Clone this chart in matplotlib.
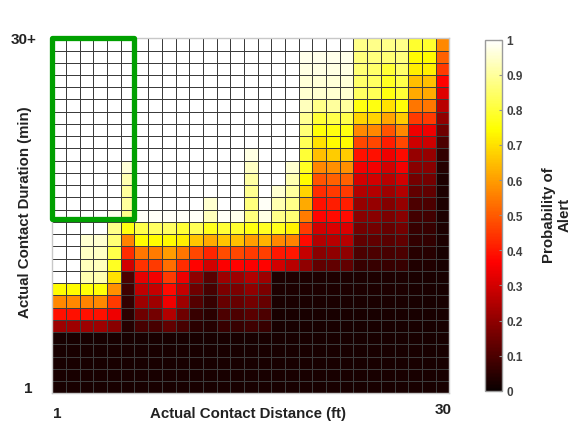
import matplotlib
matplotlib.use("Agg")
import matplotlib.pyplot as plt
import numpy as np
from matplotlib.patches import Rectangle

plt.rcParams['font.family'] = ['Liberation Sans', 'DejaVu Sans']

# Probability of alert; rows listed from top (30+ min) to bottom (1 min),
# columns from distance 1 ft (left) to 30 ft (right)
prob_rows = [
    [1, 1, 1, 1, 1, 1, 1, 1, 1, 1, 1, 1, 1, 1, 1, 1, 1, 1, 1, 1, 1, 1, .88, .88, .88, .88, .79, .79, .57],
    [1, 1, 1, 1, 1, 1, 1, 1, 1, 1, 1, 1, 1, 1, 1, 1, 1, 1, .98, .98, .98, .98, .87, .87, .86, .87, .74, .74, .51],
    [1, 1, 1, 1, 1, 1, 1, 1, 1, 1, 1, 1, 1, 1, 1, 1, 1, 1, .97, .97, .97, .97, .86, .85, .80, .85, .72, .72, .45],
    [1, 1, 1, 1, 1, 1, 1, 1, 1, 1, 1, 1, 1, 1, 1, 1, 1, 1, .96, .96, .96, .96, .85, .84, .78, .82, .65, .65, .37],
    [1, 1, 1, 1, 1, 1, 1, 1, 1, 1, 1, 1, 1, 1, 1, 1, 1, 1, .95, .95, .95, .95, .84, .83, .76, .80, .62, .62, .32],
    [1, 1, 1, 1, 1, 1, 1, 1, 1, 1, 1, 1, 1, 1, 1, 1, 1, 1, .93, .88, .90, .90, .76, .76, .70, .75, .54, .54, .26],
    [1, 1, 1, 1, 1, 1, 1, 1, 1, 1, 1, 1, 1, 1, 1, 1, 1, 1, .89, .80, .82, .82, .68, .68, .61, .67, .45, .45, .20],
    [1, 1, 1, 1, 1, 1, 1, 1, 1, 1, 1, 1, 1, 1, 1, 1, 1, 1, .86, .75, .76, .76, .57, .57, .49, .57, .34, .34, .15],
    [1, 1, 1, 1, 1, 1, 1, 1, 1, 1, 1, 1, 1, 1, 1, 1, 1, 1, .83, .70, .74, .74, .47, .47, .41, .47, .29, .29, .10],
    [1, 1, 1, 1, 1, 1, 1, 1, 1, 1, 1, 1, 1, 1, .97, 1, 1, 1, .80, .65, .67, .67, .39, .39, .34, .38, .21, .21, .06],
    [1, 1, 1, 1, 1, .96, 1, 1, 1, 1, 1, 1, 1, 1, .94, 1, 1, .95, .78, .57, .58, .58, .35, .35, .30, .35, .19, .19, .04],
    [1, 1, 1, 1, 1, .92, 1, 1, 1, 1, 1, 1, 1, 1, .91, 1, 1, .92, .74, .49, .51, .51, .30, .30, .26, .30, .16, .16, .03],
    [1, 1, 1, 1, 1, .90, 1, 1, 1, 1, 1, 1, 1, 1, .89, 1, .95, .90, .68, .43, .45, .45, .25, .25, .22, .25, .13, .13, .03],
    [1, 1, 1, 1, 1, .90, 1, 1, 1, 1, 1, .95, 1, 1, .87, .99, .92, .88, .62, .39, .41, .41, .21, .21, .18, .21, .10, .10, .03],
    [1, 1, 1, 1, .98, .88, .99, .99, .99, .99, .99, .93, .99, .98, .87, .97, .88, .86, .55, .37, .38, .38, .19, .19, .17, .19, .085, .085, .03],
    [1, 1, 1, 1, .88, .76, .82, .84, .84, .80, .83, .77, .80, .79, .76, .78, .77, .73, .45, .30, .31, .31, .16, .16, .14, .16, .07, .07, .03],
    [1, 1, .95, .95, .86, .56, .74, .74, .74, .72, .66, .62, .66, .65, .60, .63, .57, .56, .38, .25, .26, .26, .13, .13, .12, .13, .06, .06, .03],
    [1, 1, .94, .94, .82, .43, .54, .55, .60, .54, .47, .42, .48, .47, .45, .46, .40, .40, .28, .19, .20, .20, .10, .10, .09, .10, .045, .045, .02],
    [1, 1, .93, .93, .78, .30, .44, .45, .53, .43, .37, .30, .36, .37, .36, .37, .30, .26, .20, .13, .13, .13, .07, .07, .07, .07, .035, .035, .02],
    [1, 1, .92, .92, .70, .10, .33, .35, .45, .34, .20, .12, .22, .22, .25, .22, .03, .03, .03, .03, .03, .03, .03, .03, .03, .03, .025, .025, .02],
    [.74, .74, .75, .75, .58, .08, .27, .28, .38, .28, .15, .09, .17, .17, .20, .17, .03, .03, .03, .03, .03, .03, .03, .03, .03, .03, .025, .025, .02],
    [.57, .57, .56, .57, .45, .06, .22, .22, .34, .22, .11, .07, .14, .14, .16, .14, .025, .025, .025, .025, .025, .025, .025, .025, .025, .025, .02, .02, .02],
    [.39, .39, .39, .39, .34, .05, .15, .16, .25, .15, .07, .05, .10, .10, .12, .10, .02, .02, .02, .02, .02, .02, .02, .02, .02, .02, .02, .02, .02],
    [.22, .22, .22, .22, .19, .04, .09, .09, .13, .09, .05, .04, .07, .07, .08, .07, .02, .02, .02, .02, .02, .02, .02, .02, .02, .02, .02, .02, .02],
    [.02, .02, .02, .02, .02, .02, .02, .02, .02, .02, .02, .02, .02, .02, .02, .02, .02, .02, .02, .02, .02, .02, .02, .02, .02, .02, .02, .02, .02],
    [.02, .02, .02, .02, .02, .02, .02, .02, .02, .02, .02, .02, .02, .02, .02, .02, .02, .02, .02, .02, .02, .02, .02, .02, .02, .02, .02, .02, .02],
    [.02, .02, .02, .02, .02, .02, .02, .02, .02, .02, .02, .02, .02, .02, .02, .02, .02, .02, .02, .02, .02, .02, .02, .02, .02, .02, .02, .02, .02],
    [.02, .02, .02, .02, .02, .02, .02, .02, .02, .02, .02, .02, .02, .02, .02, .02, .02, .02, .02, .02, .02, .02, .02, .02, .02, .02, .02, .02, .02],
    [.02, .02, .02, .02, .02, .02, .02, .02, .02, .02, .02, .02, .02, .02, .02, .02, .02, .02, .02, .02, .02, .02, .02, .02, .02, .02, .02, .02, .02],
]

x_tick_labels = ["1", "30"]
y_tick_labels = ["1", "30+"]
cbar_ticks = [0, 0.1, 0.2, 0.3, 0.4, 0.5, 0.6, 0.7, 0.8, 0.9, 1]
cbar_tick_labels = ["0", "0.1", "0.2", "0.3", "0.4", "0.5", "0.6", "0.7", "0.8", "0.9", "1"]
# highlighted region (in cell units): distance cells 0..6, duration cells from 14.2 to top
box_x = [0, 5.95]
box_y = [14.2, 29]

Z = np.array(prob_rows)[::-1]
ny, nx = Z.shape

fig = plt.figure(figsize=(5.8, 4.27), dpi=100)
ax = fig.add_axes([0.0902, 0.0766, 0.6845, 0.8314])
mesh = ax.pcolormesh(np.arange(nx + 1), np.arange(ny + 1), Z, cmap='hot',
                     vmin=0, vmax=1, edgecolors='#3c3c3c', linewidth=0.7)
ax.set_xlim(0, nx)
ax.set_ylim(0, ny)
ax.set_xticks([])
ax.set_yticks([])
for s in ax.spines.values():
    s.set_color('#c8c8c8')
    s.set_linewidth(1.0)

rect = Rectangle((box_x[0], box_y[0]), box_x[1] - box_x[0], box_y[1] - box_y[0],
                 fill=False, edgecolor='#00a000', linewidth=3.8, joinstyle='round',
                 clip_on=False, zorder=5)
ax.add_patch(rect)

bold = dict(fontweight='bold', color='#222222')
fig.text(57 / 580, 1 - 414 / 427, x_tick_labels[0], ha='center', va='center', fontsize=11, **bold)
fig.text(443 / 580, 1 - 410 / 427, x_tick_labels[1], ha='center', va='center', fontsize=11, **bold)
fig.text(28 / 580, 1 - 389 / 427, y_tick_labels[0], ha='center', va='center', fontsize=11, **bold)
fig.text(24 / 580, 1 - 40 / 427, y_tick_labels[1], ha='center', va='center', fontsize=11, **bold)
fig.text(248 / 580, 1 - 414 / 427, "Actual Contact Distance (ft)", ha='center', va='center',
         fontsize=10.8, **bold)
fig.text(25 / 580, 1 - 212 / 427, "Actual Contact Duration (min)", ha='center', va='center',
         rotation=90, fontsize=10.8, **bold)

cax = fig.add_axes([485 / 580, 1 - 391.7 / 427, 17 / 580, 351 / 427])
cb = fig.colorbar(mesh, cax=cax, ticks=cbar_ticks)
cb.ax.set_yticklabels(cbar_tick_labels)
cb.outline.set_edgecolor('#9a9a9a')
cb.outline.set_linewidth(1.0)
cb.ax.tick_params(direction='in', length=2, color='#909090', labelsize=8.5,
                  labelcolor='#404040', pad=3)
for t in cb.ax.get_yticklabels():
    t.set_fontweight('bold')
fig.text(557 / 580, 1 - 215 / 427, "Probability of\nAlert", ha='center', va='center',
         rotation=90, fontsize=10.8, fontweight='bold', color='#222222', linespacing=1.1)

fig.savefig('out.png', dpi=100, facecolor='white')
